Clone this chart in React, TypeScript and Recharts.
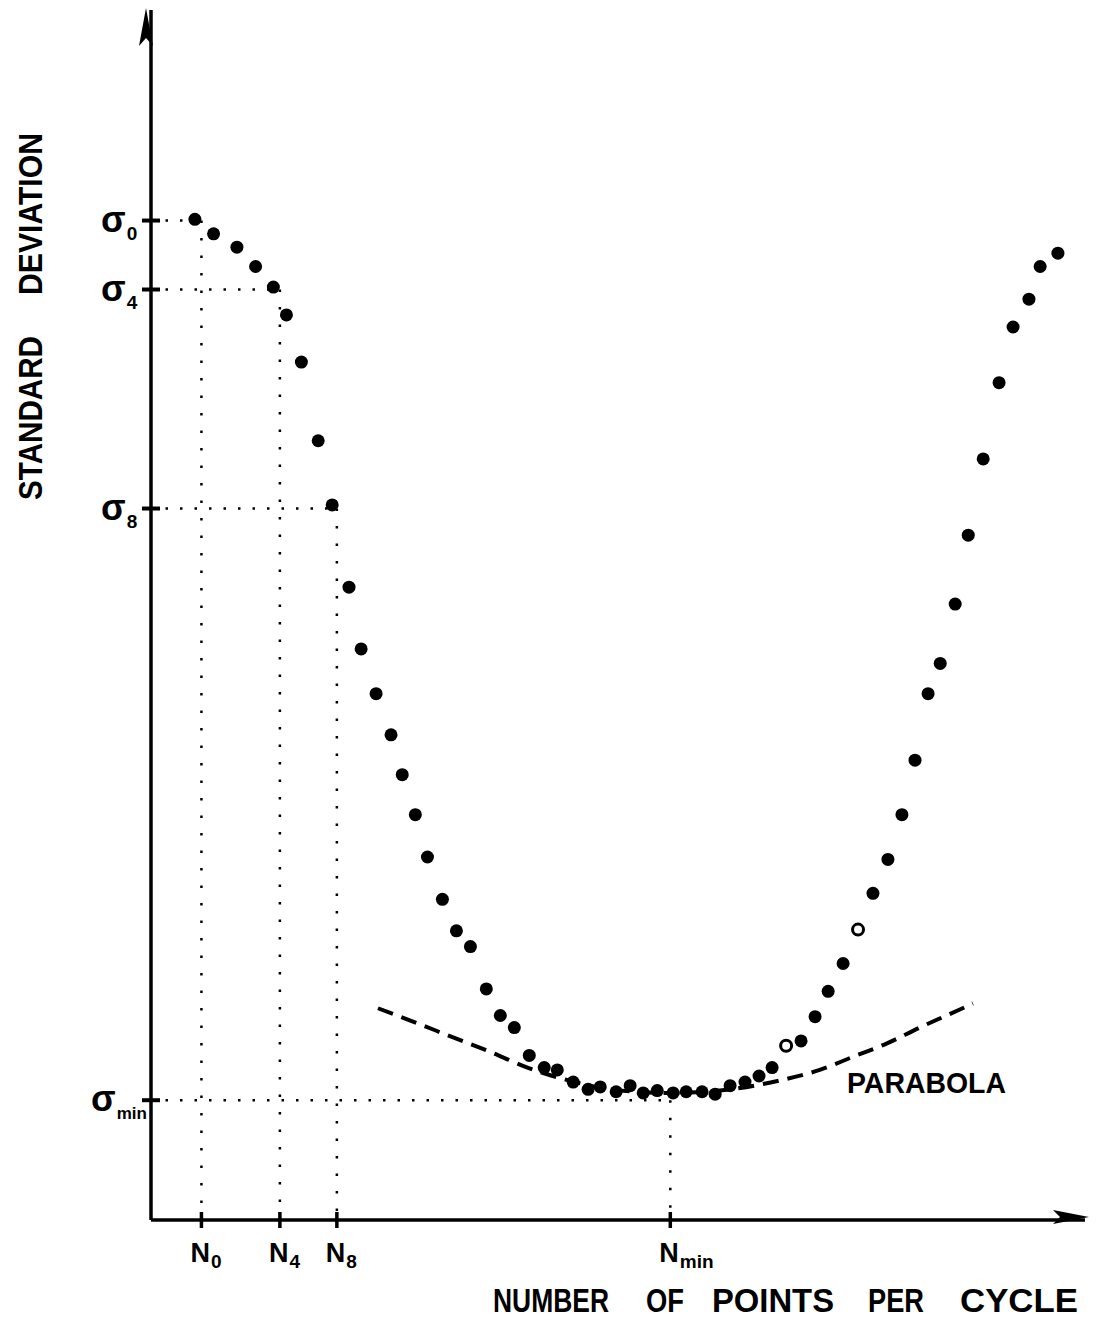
import React from "react";
import { ComposedChart, Scatter, Line, XAxis, YAxis, ReferenceLine, ReferenceDot } from "recharts";

// measured standard deviation vs number of points per cycle (arbitrary units 0-100)
const measured: [number, number][] = [
  [4.7, 82.7], [6.7, 81.5], [9.2, 80.4], [11.2, 78.8], [13.1, 77.1], [14.5, 74.8],
  [16.1, 70.9], [17.9, 64.4], [19.4, 59.1], [21.2, 52.3], [22.5, 47.2], [24.1, 43.5],
  [25.7, 40.1], [26.9, 36.8], [28.3, 33.5], [29.6, 30.0], [31.2, 26.5], [32.7, 23.9],
  [34.2, 22.6], [35.9, 19.1], [37.4, 16.9], [38.9, 15.9], [40.5, 13.6], [42.1, 12.6],
  [43.5, 12.4], [45.2, 11.4], [46.8, 10.8], [48.1, 11.0], [49.8, 10.6], [51.3, 11.1],
  [52.7, 10.5], [54.2, 10.7], [55.9, 10.5], [57.3, 10.6], [59.0, 10.6], [60.4, 10.4],
  [62.0, 11.1], [63.6, 11.4], [65.1, 11.9], [66.5, 12.6], [69.6, 14.8], [71.1, 16.8],
  [72.5, 18.9], [74.1, 21.2], [77.3, 27.0], [78.9, 29.8], [80.4, 33.5], [81.8, 38.0],
  [83.2, 43.5], [84.5, 46.0], [86.1, 50.9], [87.5, 56.6], [89.1, 62.9], [90.8, 69.2],
  [92.3, 73.8], [94.0, 76.1], [95.2, 78.8], [97.1, 79.9],
];

const openMarks: [number, number][] = [[68.0, 14.4], [75.7, 24.0]];

const parabola: [number, number][] = [
  [24.3, 17.5], [27.7, 16.5], [32.0, 15.2], [36.3, 13.9], [40.3, 12.6], [44.9, 11.5],
  [50.2, 10.7], [55.6, 10.5], [60.9, 10.7], [67.7, 11.6], [71.6, 12.4], [75.2, 13.5],
  [78.8, 14.6], [82.3, 15.9], [86.6, 17.4], [88.0, 17.9],
];

const sigmaTicks = [82.6, 76.9, 58.8, 9.9];
const sigmaSubs = ["0", "4", "8", "min"];
const nTicks = [5.4, 13.8, 19.9, 55.6];
const nSubs = ["0", "4", "8", "min"];

const toRows = (pts: [number, number][]) => pts.map(([n, s]) => ({ n, s }));

const FONT = "'Liberation Sans', Arial, Helvetica, sans-serif";

function SigmaTick(props: any) {
  const { x, y, payload } = props;
  const i = sigmaTicks.indexOf(payload.value);
  const sub = sigmaSubs[i];
  const left = sub === "min" ? x - 60 : x - 50;
  return (
    <g>
      <line x1={x - 9} x2={x + 9} y1={y} y2={y} stroke="#000" strokeWidth={4} />
      <text x={left} y={y + 11} fontSize={36} fontWeight="bold" fontFamily={FONT} fill="#000">
        σ
        <tspan fontSize={sub === "min" ? 17 : 19} dx={1} dy={8}>{sub}</tspan>
      </text>
    </g>
  );
}

function NTick(props: any) {
  const { x, y, payload } = props;
  const i = nTicks.indexOf(payload.value);
  return (
    <g>
      <line x1={x} x2={x} y1={y - 8} y2={y + 8} stroke="#000" strokeWidth={3.5} />
      <text x={x - 11} y={y + 42} fontSize={27} fontWeight="bold" fontFamily={FONT} fill="#000">
        N
        <tspan fontSize={19} dx={1} dy={6}>{nSubs[i]}</tspan>
      </text>
    </g>
  );
}

const Dot = (p: any) => <circle cx={p.cx} cy={p.cy} r={6.5} fill="#000" />;
const OpenDot = (p: any) => <circle cx={p.cx} cy={p.cy} r={5.5} fill="#fff" stroke="#000" strokeWidth={3} />;

const UpArrow = (p: any) => (
  <path d={`M${p.cx - 5} ${p.cy - 2} L${p.cx - 12} ${p.cy + 36} L${p.cx - 5} ${p.cy + 28} L${p.cx + 2} ${p.cy + 36} Z`} fill="#000" />
);
const RightArrow = (p: any) => (
  <path d={`M${p.cx + 4} ${p.cy - 3} L${p.cx - 32} ${p.cy - 10} L${p.cx - 25} ${p.cy - 3} L${p.cx - 32} ${p.cy + 4} Z`} fill="#000" />
);

export default function App() {
  const words: [string, number, number][] = [
    ["NUMBER", 493, 116],
    ["OF", 646, 38],
    ["POINTS", 712, 122],
    ["PER", 868, 56],
    ["CYCLE", 960, 118],
  ];
  return (
    <div style={{ position: "absolute", left: 0, top: 0, width: 1096, height: 1321, background: "#fff" }}>
      <ComposedChart width={1096} height={1321} margin={{ top: 10, right: 11, left: 91, bottom: 41 }}>
        <XAxis
          type="number"
          dataKey="n"
          domain={[0, 100]}
          allowDataOverflow
          ticks={nTicks}
          interval={0}
          height={60}
          tickSize={0}
          tickMargin={0}
          tickLine={false}
          axisLine={{ stroke: "#000", strokeWidth: 3.5 }}
          tick={<NTick />}
        />
        <YAxis
          type="number"
          dataKey="s"
          domain={[0, 100]}
          allowDataOverflow
          ticks={sigmaTicks}
          interval={0}
          width={60}
          tickSize={0}
          tickMargin={0}
          tickLine={false}
          axisLine={{ stroke: "#000", strokeWidth: 3.5 }}
          tick={<SigmaTick />}
        />
        {sigmaTicks.map((s, i) => (
          <ReferenceLine
            key={`h${i}`}
            segment={[{ x: 0, y: s }, { x: nTicks[i], y: s }]}
            stroke="#000"
            strokeWidth={2.5}
            strokeDasharray="2.5 12"
            ifOverflow="visible"
          />
        ))}
        {nTicks.map((n, i) => (
          <ReferenceLine
            key={`v${i}`}
            segment={[{ x: n, y: sigmaTicks[i] }, { x: n, y: 0 }]}
            stroke="#000"
            strokeWidth={2.5}
            strokeDasharray="2.5 15"
            ifOverflow="visible"
          />
        ))}
        <Line
          data={toRows(parabola)}
          dataKey="s"
          type="monotone"
          stroke="#000"
          strokeWidth={4}
          strokeDasharray="16 9"
          dot={false}
          activeDot={false}
          isAnimationActive={false}
        />
        <Scatter data={toRows(measured)} dataKey="s" shape={Dot} isAnimationActive={false} />
        <Scatter data={toRows(openMarks)} dataKey="s" shape={OpenDot} isAnimationActive={false} />
        <ReferenceDot x={0} y={100} r={1} shape={UpArrow} ifOverflow="visible" />
        <ReferenceDot x={100} y={0} r={1} shape={RightArrow} ifOverflow="visible" />
      </ComposedChart>
      <svg width={1096} height={1321} style={{ position: "absolute", left: 0, top: 0, pointerEvents: "none" }}>
        <g fontFamily={FONT} fontWeight="bold" fontSize={33} fill="#000">
          <text x={42} y={500} transform="rotate(-90 42 500)" textLength={164} lengthAdjust="spacingAndGlyphs">STANDARD</text>
          <text x={42} y={295} transform="rotate(-90 42 295)" textLength={162} lengthAdjust="spacingAndGlyphs">DEVIATION</text>
          {words.map(([w, x, len]) => (
            <text key={w} x={x} y={1312} textLength={len} lengthAdjust="spacingAndGlyphs">{w}</text>
          ))}
          <text x={847} y={1093} fontSize={30} textLength={159} lengthAdjust="spacingAndGlyphs">PARABOLA</text>
        </g>
      </svg>
    </div>
  );
}
